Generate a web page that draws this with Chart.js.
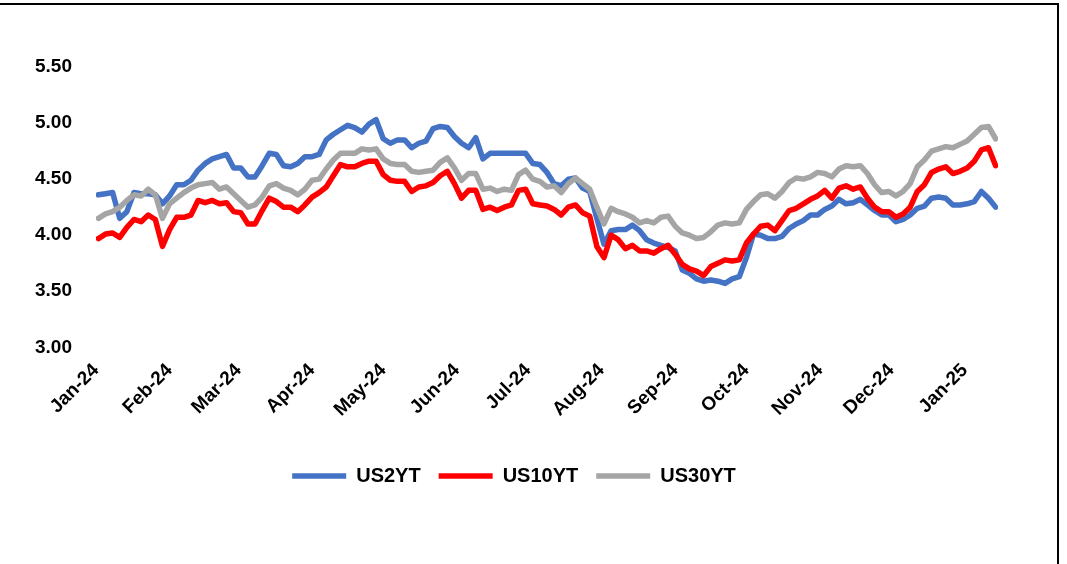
<!DOCTYPE html>
<html>
<head>
<meta charset="utf-8">
<title>US Treasury yields</title>
<script src="https://cdn.jsdelivr.net/npm/chart.js@4.4.1/dist/chart.umd.min.js"></script>
<style>
  html, body { margin: 0; padding: 0; background: #fff; }
  #wrap { position: relative; width: 1067px; height: 564px; overflow: hidden; }
  #frame { position: absolute; left: -4px; top: 3px; width: 1063px; height: 600px; box-sizing: border-box;
           border-top: 2px solid #000; border-right: 2px solid #000; }
  #chartBox { position: absolute; left: 0; top: 0; width: 1067px; height: 564px; }
</style>
</head>
<body>
<div id="wrap">
  <div id="frame"></div>
  <div id="chartBox"><canvas id="yieldChart"></canvas></div>
</div>
<script>
'use strict';

// days counted from 2024-01-01
const DAYS = [
  1, 4, 7, 10, 13, 16, 19, 22, 25, 28, 31, 34, 37, 40, 43, 46, 49, 52, 55, 58,
  61, 64, 67, 70, 73, 76, 79, 82, 85, 88, 91, 94, 97, 100, 103, 106, 109, 112, 115, 118,
  121, 124, 127, 130, 133, 136, 139, 142, 145, 148, 151, 154, 157, 160, 163, 166, 169, 172, 175, 178,
  181, 184, 187, 190, 193, 196, 199, 202, 205, 208, 211, 214, 217, 220, 223, 226, 229, 232, 235, 238,
  241, 244, 247, 250, 253, 256, 259, 262, 265, 268, 271, 274, 277, 280, 283, 286, 289, 292, 295, 298,
  301, 304, 307, 310, 313, 316, 319, 322, 325, 328, 331, 334, 337, 340, 343, 346, 349, 352, 355, 358,
  361, 364, 367, 370, 373, 376, 379
];

const US2YT = [
  4.36, 4.37, 4.38, 4.15, 4.21, 4.38, 4.37, 4.37, 4.36, 4.28,
  4.35, 4.45, 4.45, 4.49, 4.58, 4.64, 4.68, 4.70, 4.72, 4.60,
  4.60, 4.52, 4.52, 4.62, 4.73, 4.72, 4.62, 4.61, 4.64, 4.70,
  4.70, 4.72, 4.85, 4.90, 4.94, 4.98, 4.96, 4.92, 4.99, 5.03,
  4.86, 4.82, 4.85, 4.85, 4.78, 4.82, 4.84, 4.95, 4.97, 4.96,
  4.88, 4.82, 4.78, 4.87, 4.68, 4.73, 4.73, 4.73, 4.73, 4.73,
  4.73, 4.64, 4.63, 4.56, 4.46, 4.44, 4.50, 4.51, 4.42, 4.39,
  4.15, 3.92, 4.04, 4.05, 4.05, 4.09, 4.04, 3.96, 3.93, 3.91,
  3.89, 3.86, 3.69, 3.66, 3.61, 3.59, 3.60, 3.59, 3.57, 3.61,
  3.63, 3.80, 4.01, 4.00, 3.97, 3.97, 3.99, 4.06, 4.10, 4.13,
  4.18, 4.18, 4.23, 4.26, 4.32, 4.28, 4.29, 4.32, 4.27, 4.22,
  4.18, 4.18, 4.12, 4.14, 4.18, 4.24, 4.26, 4.33, 4.34, 4.33,
  4.27, 4.27, 4.28, 4.30, 4.39, 4.33, 4.25
];

const US10YT = [
  3.97, 4.01, 4.02, 3.98, 4.07, 4.14, 4.12, 4.18, 4.14, 3.90,
  4.05, 4.16, 4.16, 4.18, 4.31, 4.29, 4.31, 4.28, 4.29, 4.21,
  4.20, 4.10, 4.10, 4.22, 4.33, 4.30, 4.25, 4.25, 4.21, 4.27,
  4.34, 4.38, 4.43, 4.53, 4.63, 4.61, 4.61, 4.64, 4.66, 4.66,
  4.54, 4.49, 4.48, 4.48, 4.39, 4.43, 4.44, 4.47, 4.53, 4.57,
  4.46, 4.33, 4.40, 4.40, 4.23, 4.25, 4.22, 4.25, 4.27, 4.40,
  4.41, 4.28, 4.27, 4.26, 4.23, 4.18, 4.25, 4.27, 4.20, 4.17,
  3.90, 3.80, 4.00, 3.96, 3.88, 3.91, 3.86, 3.86, 3.84, 3.88,
  3.91, 3.83, 3.74, 3.70, 3.68, 3.64, 3.72, 3.75, 3.78, 3.77,
  3.78, 3.93, 4.01, 4.08, 4.09, 4.04, 4.13, 4.22, 4.24, 4.28,
  4.32, 4.35, 4.40, 4.33, 4.42, 4.44, 4.41, 4.43, 4.33, 4.25,
  4.21, 4.21, 4.16, 4.19, 4.25, 4.39, 4.45, 4.56, 4.59, 4.61,
  4.55, 4.57, 4.60, 4.66, 4.76, 4.78, 4.62
];

const US30YT = [
  4.15, 4.19, 4.21, 4.25, 4.31, 4.36, 4.35, 4.41, 4.36, 4.15,
  4.28, 4.33, 4.38, 4.42, 4.45, 4.46, 4.47, 4.41, 4.43, 4.37,
  4.31, 4.25, 4.27, 4.34, 4.44, 4.46, 4.42, 4.40, 4.36, 4.41,
  4.49, 4.50, 4.59, 4.67, 4.73, 4.73, 4.73, 4.77, 4.76, 4.77,
  4.68, 4.64, 4.63, 4.63, 4.57, 4.56, 4.57, 4.58, 4.65, 4.69,
  4.60, 4.49, 4.55, 4.55, 4.41, 4.42, 4.39, 4.41, 4.40, 4.54,
  4.58, 4.50, 4.48, 4.43, 4.44, 4.38, 4.46, 4.51, 4.46, 4.41,
  4.25, 4.10, 4.24, 4.21, 4.19, 4.16, 4.11, 4.13, 4.11, 4.16,
  4.17, 4.08, 4.02, 4.00, 3.97, 3.98, 4.03, 4.09, 4.11, 4.10,
  4.11, 4.23, 4.30, 4.36, 4.37, 4.33, 4.39, 4.47, 4.51, 4.50,
  4.52, 4.56, 4.55, 4.52, 4.59, 4.62, 4.61, 4.62, 4.55, 4.45,
  4.38, 4.39, 4.35, 4.39, 4.46, 4.61, 4.67, 4.75, 4.77, 4.79,
  4.78, 4.81, 4.84, 4.90, 4.96, 4.97, 4.86
];

const MONTH_DAYS = [0, 31, 60, 91, 121, 152, 182, 213, 244, 274, 305, 335, 366];
const MONTH_LABELS = ['Jan-24', 'Feb-24', 'Mar-24', 'Apr-24', 'May-24', 'Jun-24', 'Jul-24',
  'Aug-24', 'Sep-24', 'Oct-24', 'Nov-24', 'Dec-24', 'Jan-25'];
const Y_TICKS = [3.0, 3.5, 4.0, 4.5, 5.0, 5.5];

const SERIES = [
  { name: 'US2YT', values: US2YT, color: '#4472C4', order: 3 },
  { name: 'US10YT', values: US10YT, color: '#FF0000', order: 2 },
  { name: 'US30YT', values: US30YT, color: '#A5A5A5', order: 1 }
];

const FONT = "'Liberation Sans', Arial, sans-serif";

function toPoints(values) {
  return values.map((v, i) => ({ x: DAYS[i], y: v }));
}

function renderChart() {
  const ctx = document.getElementById('yieldChart').getContext('2d');
  const datasets = SERIES.map(s => ({
    label: s.name,
    data: toPoints(s.values),
    borderColor: s.color,
    backgroundColor: s.color,
    borderWidth: 5.5,
    borderCapStyle: 'round',
    borderJoinStyle: 'round',
    pointRadius: 0,
    tension: 0,
    order: s.order
  }));

  new Chart(ctx, {
    type: 'line',
    data: { datasets },
    options: {
      responsive: true,
      maintainAspectRatio: false,
      animation: false,
      layout: { padding: { top: 67, right: 69, bottom: 68, left: 30 } },
      plugins: {
        tooltip: { enabled: false },
        legend: {
          position: 'bottom',
          labels: {
            sort: (a, b) => a.datasetIndex - b.datasetIndex,
            usePointStyle: true,
            pointStyle: 'line',
            pointStyleWidth: 54,
            color: '#000',
            padding: 18,
            font: { family: FONT, size: 20, weight: 'bold' }
          }
        }
      },
      scales: {
        x: {
          type: 'linear',
          min: 0,
          max: 380,
          grid: { display: false },
          border: { display: false },
          afterBuildTicks: scale => { scale.ticks = MONTH_DAYS.map(v => ({ value: v })); },
          afterFit: scale => { scale.height += 23; },
          ticks: {
            autoSkip: false,
            minRotation: 45,
            maxRotation: 45,
            padding: 4,
            color: '#000',
            font: { family: FONT, size: 19, weight: 'bold' },
            callback: (value, index) => MONTH_LABELS[index]
          }
        },
        y: {
          min: 3,
          max: 5.5,
          grid: { display: false },
          border: { display: false },
          afterBuildTicks: scale => { scale.ticks = Y_TICKS.map(v => ({ value: v })); },
          afterFit: scale => { scale.width = 66; },
          ticks: {
            padding: 16,
            color: '#000',
            font: { family: FONT, size: 19, weight: 'bold' },
            callback: value => Number(value).toFixed(2)
          }
        }
      }
    }
  });
}

window.addEventListener('DOMContentLoaded', renderChart);
</script>
</body>
</html>
